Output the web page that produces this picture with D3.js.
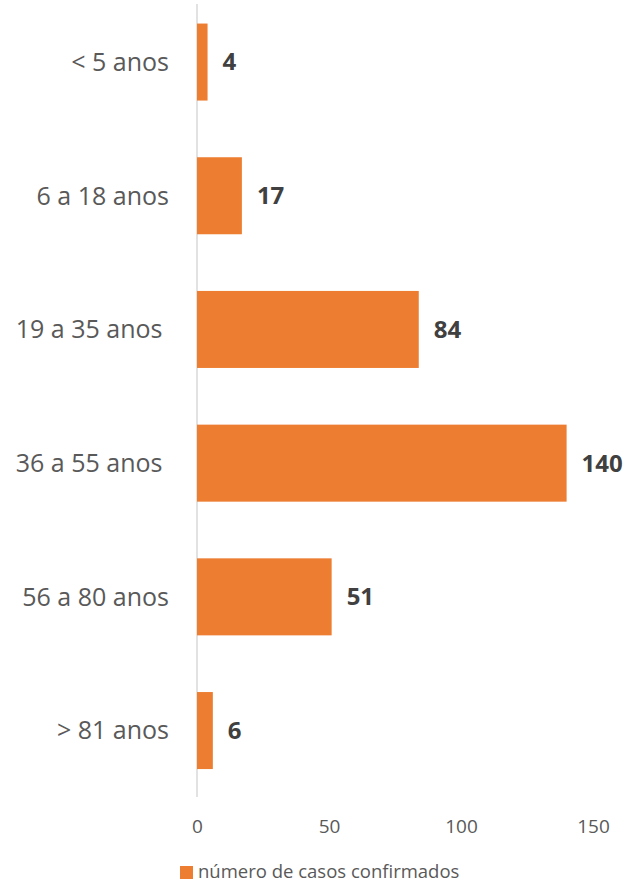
<!DOCTYPE html>
<html>
<head>
<meta charset="utf-8">
<script src="https://cdn.jsdelivr.net/npm/d3@7"></script>
<style>
  html, body { margin: 0; padding: 0; background: #fff; }
  svg { display: block; font-family: "Open Sans", sans-serif; }
  text { white-space: pre; }
</style>
</head>
<body>
<script>
// data
const categories = ['< 5 anos', '6 a 18 anos', '19 a 35 anos ', '36 a 55 anos ', '56 a 80 anos', '> 81 anos'];
const casos = [4, 17, 84, 140, 51, 6];
const xTicks = [0, 50, 100, 150];
const seriesName = 'número de casos confirmados';

const width = 635;
const height = 883;

const svg = d3.select('body')
  .append('svg')
  .attr('width', width)
  .attr('height', height);

const x = d3.scaleLinear()
  .domain([0, 150])
  .range([197, 593]);

const y = d3.scaleBand()
  .domain(categories)
  .range([-4.8, 797.4])
  .paddingInner(0.424)
  .paddingOuter(0.212);

const rows = categories.map((c, i) => ({ cat: c, value: casos[i] }));

// vertical axis line
svg.append('line')
  .attr('x1', x(0)).attr('x2', x(0))
  .attr('y1', 4).attr('y2', 797)
  .attr('stroke', '#d9d9d9')
  .attr('stroke-width', 1.5);

svg.selectAll('.bar')
  .data(rows)
  .enter()
  .append('rect')
  .classed('bar', true)
  .attr('x', x(0))
  .attr('y', (d) => y(d.cat))
  .attr('width', (d) => x(d.value) - x(0))
  .attr('height', y.bandwidth())
  .attr('fill', '#ed7d31');

// value labels
svg.selectAll('.val')
  .data(rows)
  .enter()
  .append('text')
  .classed('val', true)
  .attr('x', (d) => x(d.value) + 15)
  .attr('y', (d) => y(d.cat) + y.bandwidth() / 2)
  .attr('dy', '0.35em')
  .attr('font-size', 24)
  .attr('font-weight', 'bold')
  .attr('fill', '#404040')
  .text((d) => d.value);

// category labels
svg.selectAll('.cat')
  .data(rows)
  .enter()
  .append('text')
  .classed('cat', true)
  .attr('x', 169)
  .attr('y', (d) => y(d.cat) + y.bandwidth() / 2)
  .attr('dy', '0.35em')
  .attr('text-anchor', 'end')
  .attr('font-size', 25)
  .attr('fill', '#595959')
  .text((d) => d.cat);

// bottom axis (labels only)
const xAxis = d3.axisBottom(x)
  .tickValues(xTicks)
  .tickSize(0)
  .tickPadding(0);

const gx = svg.append('g')
  .attr('transform', 'translate(0, 819)')
  .call(xAxis);
gx.select('.domain').remove();
gx.selectAll('text')
  .attr('font-size', 19)
  .attr('font-family', '"Open Sans", sans-serif')
  .attr('fill', '#595959');

// legend
const legend = svg.append('g').attr('transform', 'translate(180, 872)');
legend.append('rect')
  .attr('x', 0).attr('y', -6)
  .attr('width', 13).attr('height', 13)
  .attr('fill', '#ed7d31');
legend.append('text')
  .attr('x', 18)
  .attr('dy', '0.35em')
  .attr('font-size', 18.5)
  .attr('fill', '#595959')
  .text(seriesName);
</script>
</body>
</html>
